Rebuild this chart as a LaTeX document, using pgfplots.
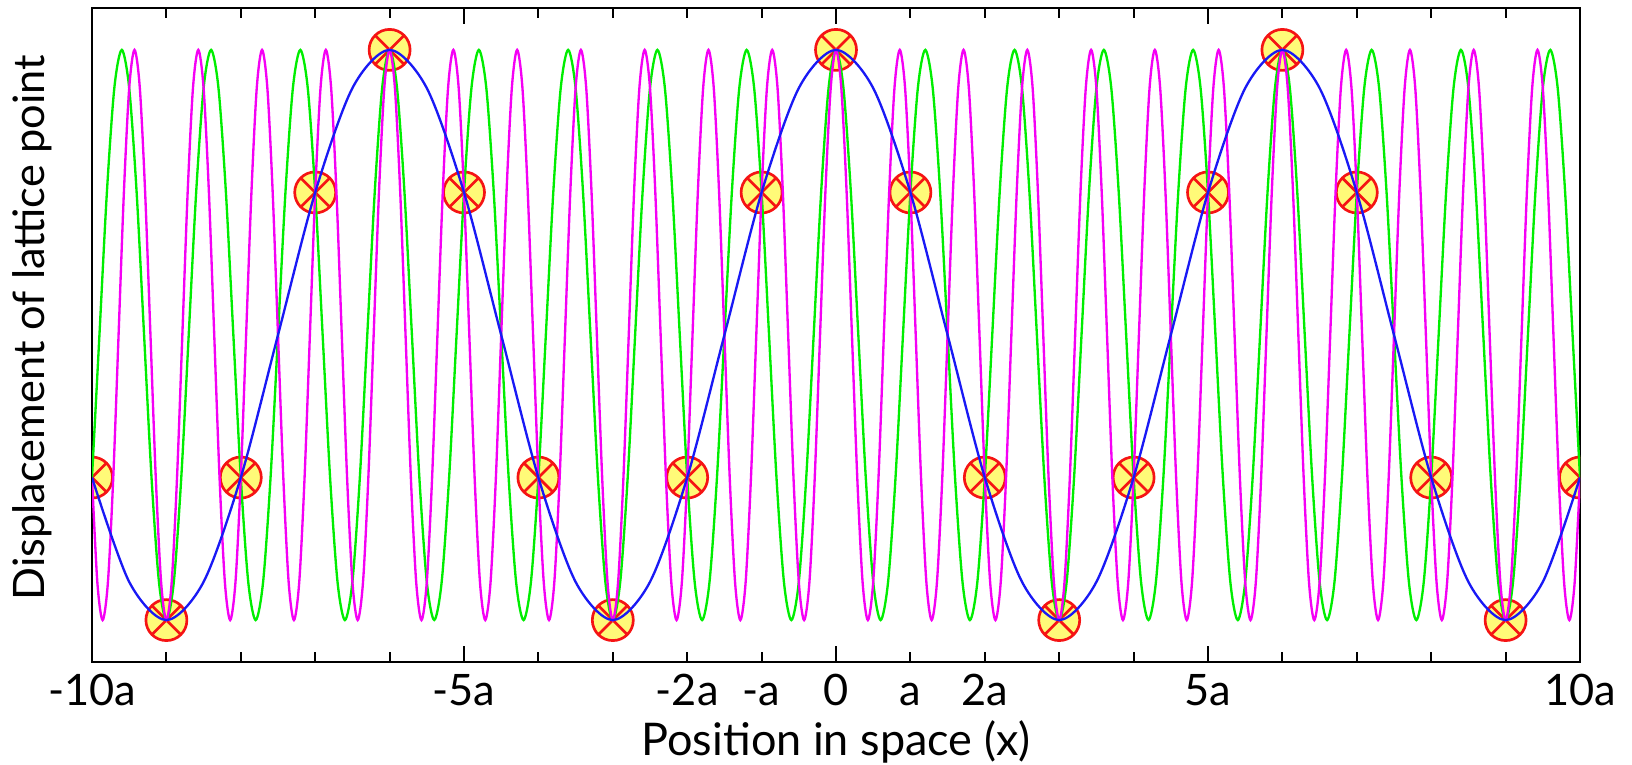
\documentclass[border=0pt]{standalone}
\usepackage{fontspec}
\setmainfont{Lato}
\usepackage{pgfplots}
\pgfplotsset{compat=1.18}
\definecolor{cgreen}{RGB}{0,238,0}
\definecolor{cmag}{RGB}{245,0,245}
\definecolor{cblue}{RGB}{25,25,245}
\definecolor{cfill}{RGB}{255,250,120}
\definecolor{cred}{RGB}{245,20,20}
\begin{document}
\begin{tikzpicture}
\begin{axis}[
  scale only axis, width=446.4pt, height=196.2pt,
  xmin=-10, xmax=10, ymin=-1.147, ymax=1.147,
  axis line style={line width=0.8pt},
  xtick={-10,-5,0,5,10}, xticklabels={-10a,-5a,0,5a,10a},
  minor xtick={-9,-8,-7,-6,-4,-3,-2,-1,1,2,3,4,6,7,8,9},
  extra x ticks={-2,-1,1,2}, extra x tick labels={-2a,-a,a,2a},
  extra x tick style={major tick length=3pt},
  major tick length=4.7pt, minor tick length=3pt,
  every tick/.style={black, line width=0.6pt},
  ytick=\empty,
  xticklabel style={font=\fontsize{13}{15}\selectfont, inner sep=0pt, anchor=base, yshift=-13.2pt},
  xlabel={Position in space (x)},
  xlabel style={font=\fontsize{13.5}{15}\selectfont, inner sep=0pt, at={(axis description cs:0.5,0)}, anchor=base, yshift=-28.2pt},
  ylabel={Displacement of lattice point},
  ylabel style={font=\fontsize{13}{15}\selectfont, inner sep=0pt, at={(axis description cs:-0.0316,0.511)}, anchor=base},
  clip marker paths=true,
]
% lattice points
\addplot[only marks, mark=otimes*, mark size=6.15pt, mark options={draw=cred, fill=cfill, line width=0.8pt}] coordinates {
(-10,-0.5)(-9,-1)(-8,-0.5)(-7,0.5)(-6,1)(-5,0.5)(-4,-0.5)(-3,-1)(-2,-0.5)(-1,0.5)(0,1)(1,0.5)(2,-0.5)(3,-1)(4,-0.5)(5,0.5)(6,1)(7,0.5)(8,-0.5)(9,-1)(10,-0.5)
};
% green wave
\addplot[cgreen, line width=0.7pt, smooth] coordinates {
(-10,-0.5)(-9.9,0)(-9.8,0.5)(-9.7,0.866)(-9.6,1)
(-9.5,0.866)(-9.4,0.5)(-9.3,0)(-9.2,-0.5)(-9.1,-0.866)(-9,-1)(-8.9,-0.866)(-8.8,-0.5)(-8.7,0)(-8.6,0.5)(-8.5,0.866)(-8.4,1)
(-8.3,0.866)(-8.2,0.5)(-8.1,0)(-8,-0.5)(-7.9,-0.866)(-7.8,-1)(-7.7,-0.866)(-7.6,-0.5)(-7.5,0)(-7.4,0.5)(-7.3,0.866)(-7.2,1)
(-7.1,0.866)(-7,0.5)(-6.9,0)(-6.8,-0.5)(-6.7,-0.866)(-6.6,-1)(-6.5,-0.866)(-6.4,-0.5)(-6.3,0)(-6.2,0.5)(-6.1,0.866)(-6,1)
(-5.9,0.866)(-5.8,0.5)(-5.7,0)(-5.6,-0.5)(-5.5,-0.866)(-5.4,-1)(-5.3,-0.866)(-5.2,-0.5)(-5.1,0)(-5,0.5)(-4.9,0.866)(-4.8,1)
(-4.7,0.866)(-4.6,0.5)(-4.5,0)(-4.4,-0.5)(-4.3,-0.866)(-4.2,-1)(-4.1,-0.866)(-4,-0.5)(-3.9,0)(-3.8,0.5)(-3.7,0.866)(-3.6,1)
(-3.5,0.866)(-3.4,0.5)(-3.3,0)(-3.2,-0.5)(-3.1,-0.866)(-3,-1)(-2.9,-0.866)(-2.8,-0.5)(-2.7,0)(-2.6,0.5)(-2.5,0.866)(-2.4,1)
(-2.3,0.866)(-2.2,0.5)(-2.1,0)(-2,-0.5)(-1.9,-0.866)(-1.8,-1)(-1.7,-0.866)(-1.6,-0.5)(-1.5,0)(-1.4,0.5)(-1.3,0.866)(-1.2,1)
(-1.1,0.866)(-1,0.5)(-0.9,0)(-0.8,-0.5)(-0.7,-0.866)(-0.6,-1)(-0.5,-0.866)(-0.4,-0.5)(-0.3,0)(-0.2,0.5)(-0.1,0.866)
(0,1)(0.1,0.866)(0.2,0.5)(0.3,0)(0.4,-0.5)(0.5,-0.866)(0.6,-1)(0.7,-0.866)(0.8,-0.5)(0.9,0)(1,0.5)(1.1,0.866)
(1.2,1)(1.3,0.866)(1.4,0.5)(1.5,0)(1.6,-0.5)(1.7,-0.866)(1.8,-1)(1.9,-0.866)(2,-0.5)(2.1,0)(2.2,0.5)(2.3,0.866)
(2.4,1)(2.5,0.866)(2.6,0.5)(2.7,0)(2.8,-0.5)(2.9,-0.866)(3,-1)(3.1,-0.866)(3.2,-0.5)(3.3,0)(3.4,0.5)(3.5,0.866)
(3.6,1)(3.7,0.866)(3.8,0.5)(3.9,0)(4,-0.5)(4.1,-0.866)(4.2,-1)(4.3,-0.866)(4.4,-0.5)(4.5,0)(4.6,0.5)(4.7,0.866)
(4.8,1)(4.9,0.866)(5,0.5)(5.1,0)(5.2,-0.5)(5.3,-0.866)(5.4,-1)(5.5,-0.866)(5.6,-0.5)(5.7,0)(5.8,0.5)(5.9,0.866)
(6,1)(6.1,0.866)(6.2,0.5)(6.3,0)(6.4,-0.5)(6.5,-0.866)(6.6,-1)(6.7,-0.866)(6.8,-0.5)(6.9,0)(7,0.5)(7.1,0.866)
(7.2,1)(7.3,0.866)(7.4,0.5)(7.5,0)(7.6,-0.5)(7.7,-0.866)(7.8,-1)(7.9,-0.866)(8,-0.5)(8.1,0)(8.2,0.5)(8.3,0.866)
(8.4,1)(8.5,0.866)(8.6,0.5)(8.7,0)(8.8,-0.5)(8.9,-0.866)(9,-1)(9.1,-0.866)(9.2,-0.5)(9.3,0)(9.4,0.5)(9.5,0.866)
(9.6,1)(9.7,0.866)(9.8,0.5)(9.9,0)(10,-0.5)
};
% magenta wave
\addplot[cmag, line width=0.7pt, smooth] coordinates {
(-10,-0.5)(-9.9286,-0.866)(-9.8571,-1)(-9.7857,-0.866)(-9.7143,-0.5)(-9.6429,0)(-9.5714,0.5)(-9.5,0.866)(-9.4286,1)
(-9.3571,0.866)(-9.2857,0.5)(-9.2143,0)(-9.1429,-0.5)(-9.0714,-0.866)(-9,-1)(-8.9286,-0.866)(-8.8571,-0.5)(-8.7857,0)(-8.7143,0.5)(-8.6429,0.866)(-8.5714,1)
(-8.5,0.866)(-8.4286,0.5)(-8.3571,0)(-8.2857,-0.5)(-8.2143,-0.866)(-8.1429,-1)(-8.0714,-0.866)(-8,-0.5)(-7.9286,0)(-7.8571,0.5)(-7.7857,0.866)(-7.7143,1)
(-7.6429,0.866)(-7.5714,0.5)(-7.5,0)(-7.4286,-0.5)(-7.3571,-0.866)(-7.2857,-1)(-7.2143,-0.866)(-7.1429,-0.5)(-7.0714,0)(-7,0.5)(-6.9286,0.866)(-6.8571,1)
(-6.7857,0.866)(-6.7143,0.5)(-6.6429,0)(-6.5714,-0.5)(-6.5,-0.866)(-6.4286,-1)(-6.3571,-0.866)(-6.2857,-0.5)(-6.2143,0)(-6.1429,0.5)(-6.0714,0.866)(-6,1)
(-5.9286,0.866)(-5.8571,0.5)(-5.7857,0)(-5.7143,-0.5)(-5.6429,-0.866)(-5.5714,-1)(-5.5,-0.866)(-5.4286,-0.5)(-5.3571,0)(-5.2857,0.5)(-5.2143,0.866)(-5.1429,1)
(-5.0714,0.866)(-5,0.5)(-4.9286,0)(-4.8571,-0.5)(-4.7857,-0.866)(-4.7143,-1)(-4.6429,-0.866)(-4.5714,-0.5)(-4.5,0)(-4.4286,0.5)(-4.3571,0.866)(-4.2857,1)
(-4.2143,0.866)(-4.1429,0.5)(-4.0714,0)(-4,-0.5)(-3.9286,-0.866)(-3.8571,-1)(-3.7857,-0.866)(-3.7143,-0.5)(-3.6429,0)(-3.5714,0.5)(-3.5,0.866)(-3.4286,1)
(-3.3571,0.866)(-3.2857,0.5)(-3.2143,0)(-3.1429,-0.5)(-3.0714,-0.866)(-3,-1)(-2.9286,-0.866)(-2.8571,-0.5)(-2.7857,0)(-2.7143,0.5)(-2.6429,0.866)(-2.5714,1)
(-2.5,0.866)(-2.4286,0.5)(-2.3571,0)(-2.2857,-0.5)(-2.2143,-0.866)(-2.1429,-1)(-2.0714,-0.866)(-2,-0.5)(-1.9286,0)(-1.8571,0.5)(-1.7857,0.866)(-1.7143,1)
(-1.6429,0.866)(-1.5714,0.5)(-1.5,0)(-1.4286,-0.5)(-1.3571,-0.866)(-1.2857,-1)(-1.2143,-0.866)(-1.1429,-0.5)(-1.0714,0)(-1,0.5)(-0.9286,0.866)(-0.8571,1)
(-0.7857,0.866)(-0.7143,0.5)(-0.6429,0)(-0.5714,-0.5)(-0.5,-0.866)(-0.4286,-1)(-0.3571,-0.866)(-0.2857,-0.5)(-0.2143,0)(-0.1429,0.5)(-0.0714,0.866)
(0,1)(0.0714,0.866)(0.1429,0.5)(0.2143,0)(0.2857,-0.5)(0.3571,-0.866)(0.4286,-1)(0.5,-0.866)(0.5714,-0.5)(0.6429,0)(0.7143,0.5)(0.7857,0.866)
(0.8571,1)(0.9286,0.866)(1,0.5)(1.0714,0)(1.1429,-0.5)(1.2143,-0.866)(1.2857,-1)(1.3571,-0.866)(1.4286,-0.5)(1.5,0)(1.5714,0.5)(1.6429,0.866)
(1.7143,1)(1.7857,0.866)(1.8571,0.5)(1.9286,0)(2,-0.5)(2.0714,-0.866)(2.1429,-1)(2.2143,-0.866)(2.2857,-0.5)(2.3571,0)(2.4286,0.5)(2.5,0.866)
(2.5714,1)(2.6429,0.866)(2.7143,0.5)(2.7857,0)(2.8571,-0.5)(2.9286,-0.866)(3,-1)(3.0714,-0.866)(3.1429,-0.5)(3.2143,0)(3.2857,0.5)(3.3571,0.866)
(3.4286,1)(3.5,0.866)(3.5714,0.5)(3.6429,0)(3.7143,-0.5)(3.7857,-0.866)(3.8571,-1)(3.9286,-0.866)(4,-0.5)(4.0714,0)(4.1429,0.5)(4.2143,0.866)
(4.2857,1)(4.3571,0.866)(4.4286,0.5)(4.5,0)(4.5714,-0.5)(4.6429,-0.866)(4.7143,-1)(4.7857,-0.866)(4.8571,-0.5)(4.9286,0)(5,0.5)(5.0714,0.866)
(5.1429,1)(5.2143,0.866)(5.2857,0.5)(5.3571,0)(5.4286,-0.5)(5.5,-0.866)(5.5714,-1)(5.6429,-0.866)(5.7143,-0.5)(5.7857,0)(5.8571,0.5)(5.9286,0.866)
(6,1)(6.0714,0.866)(6.1429,0.5)(6.2143,0)(6.2857,-0.5)(6.3571,-0.866)(6.4286,-1)(6.5,-0.866)(6.5714,-0.5)(6.6429,0)(6.7143,0.5)(6.7857,0.866)
(6.8571,1)(6.9286,0.866)(7,0.5)(7.0714,0)(7.1429,-0.5)(7.2143,-0.866)(7.2857,-1)(7.3571,-0.866)(7.4286,-0.5)(7.5,0)(7.5714,0.5)(7.6429,0.866)
(7.7143,1)(7.7857,0.866)(7.8571,0.5)(7.9286,0)(8,-0.5)(8.0714,-0.866)(8.1429,-1)(8.2143,-0.866)(8.2857,-0.5)(8.3571,0)(8.4286,0.5)(8.5,0.866)
(8.5714,1)(8.6429,0.866)(8.7143,0.5)(8.7857,0)(8.8571,-0.5)(8.9286,-0.866)(9,-1)(9.0714,-0.866)(9.1429,-0.5)(9.2143,0)(9.2857,0.5)(9.3571,0.866)
(9.4286,1)(9.5,0.866)(9.5714,0.5)(9.6429,0)(9.7143,-0.5)(9.7857,-0.866)(9.8571,-1)(9.9286,-0.866)(10,-0.5)
};
% blue wave
\addplot[cblue, line width=0.7pt, smooth] coordinates {
(-10,-0.5)(-9.5,-0.866)(-9,-1)(-8.5,-0.866)(-8,-0.5)(-7.5,0)(-7,0.5)(-6.5,0.866)(-6,1)(-5.5,0.866)(-5,0.5)(-4.5,0)(-4,-0.5)(-3.5,-0.866)(-3,-1)(-2.5,-0.866)(-2,-0.5)(-1.5,0)(-1,0.5)(-0.5,0.866)(0,1)(0.5,0.866)(1,0.5)(1.5,0)(2,-0.5)(2.5,-0.866)(3,-1)(3.5,-0.866)(4,-0.5)(4.5,0)(5,0.5)(5.5,0.866)(6,1)(6.5,0.866)(7,0.5)(7.5,0)(8,-0.5)(8.5,-0.866)(9,-1)(9.5,-0.866)(10,-0.5)
};
\end{axis}
\path ([xshift=-27.6pt,yshift=-30.9pt]current axis.south west) rectangle ([xshift=15.6pt,yshift=2.4pt]current axis.north east);
\end{tikzpicture}
\end{document}
